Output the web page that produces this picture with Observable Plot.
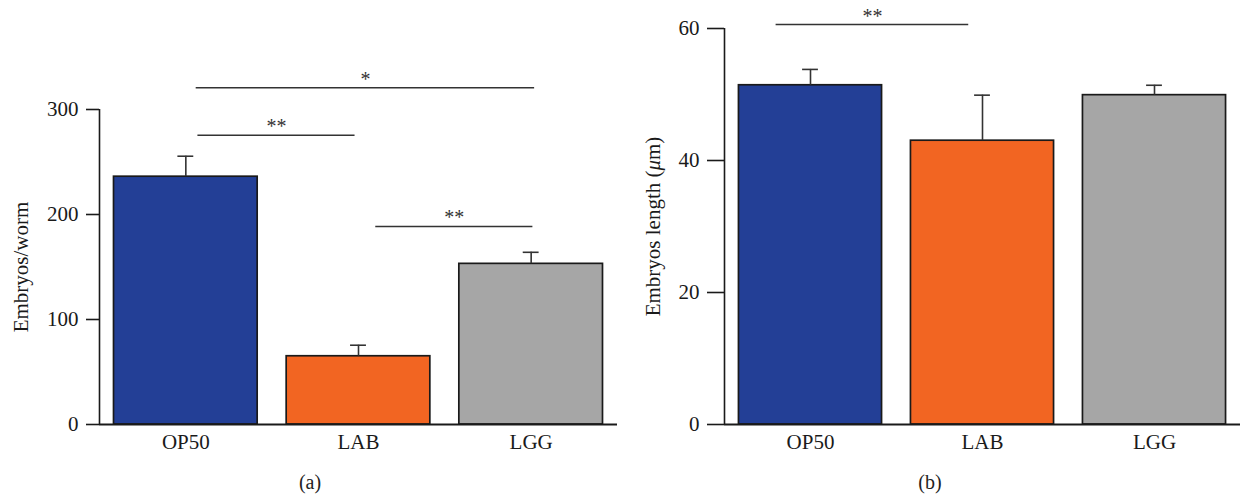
<!DOCTYPE html>
<html><head><meta charset="utf-8">
<script src="https://cdn.jsdelivr.net/npm/d3@7"></script>
<script src="https://cdn.jsdelivr.net/npm/@observablehq/plot@0.6"></script>
<style>
body{margin:0;background:#fff;font-family:"Liberation Serif",serif;}
#wrap{display:flex;width:1240px;height:498px;overflow:hidden;}
.panel{width:620px;height:498px;position:relative;}
.panel svg{display:block;}
.cap{position:absolute;left:0;width:620px;text-align:center;top:470px;font-size:20px;line-height:24px;color:#222;}
</style></head><body>
<div id="wrap"><div class="panel" id="a"></div><div class="panel" id="b"></div></div>
<script>
const categories = ["OP50", "LAB", "LGG"];
const barColors = ["#233F96", "#F26522", "#A6A6A6"];
const embryosPerWorm = [236, 65, 153];
const embryosPerWormErr = [19.5, 10.5, 11];
const embryoLength = [51.4, 43.0, 49.9];
const embryoLengthErr = [2.4, 6.9, 1.5];
const yTicksA = [0, 100, 200, 300];
const yTicksB = [0, 20, 40, 60];
const sigA = [
  {from: 1.06, to: 3.02, y: 320.7, label: "*"},
  {from: 1.07, to: 1.98, y: 275.5, label: "**"},
  {from: 2.10, to: 3.01, y: 188.6, label: "**"}
];
const sigB = [
  {from: 0.80, to: 1.92, y: 60.6, label: "**"}
];
const captions = ["(a)", "(b)"];

const FONT = "'Liberation Serif', 'Times New Roman', serif";
const INK = "#1a1a1a";

function panel({values, errs, ticks, yMax, sig, title, marginLeft, marginRight, marginTop, tickSize, titleDx}) {
  const rows = categories.map((c, i) => ({cat: c, pos: i + 1, v: values[i], e: errs[i]}));
  const half = 0.416, cap = 0.046;
  return Plot.plot({
    width: 620, height: 464,
    marginLeft, marginRight, marginTop, marginBottom: 40,
    x: {domain: [0.5, 3.5], axis: null},
    y: {domain: [0, yMax], axis: null},
    color: {domain: categories, range: barColors},
    style: {fontFamily: FONT, fontSize: "21px", color: INK, background: "#fff"},
    marks: [
      Plot.rectY(rows, {x1: d => d.pos - half, x2: d => d.pos + half, y1: 0, y2: "v", fill: "cat", stroke: INK, strokeWidth: 1.7}),
      Plot.ruleX(rows, {x: "pos", y1: "v", y2: d => d.v + d.e, stroke: "#333", strokeWidth: 1.6}),
      Plot.ruleY(rows, {y: d => d.v + d.e, x1: d => d.pos - cap, x2: d => d.pos + cap, stroke: "#333", strokeWidth: 1.6}),
      Plot.ruleX([0.5], {y1: 0, y2: yMax, stroke: INK, strokeWidth: 1.6}),
      Plot.ruleY([0], {stroke: INK, strokeWidth: 1.8}),
      Plot.axisY({ticks, tickSize, tickPadding: 8, label: null, stroke: INK, strokeWidth: 1.6, fontSize: 21, fill: INK}),
      Plot.text(rows, {x: "pos", y: 0, text: "cat", dy: 18, lineAnchor: "middle", fontSize: 21, fill: INK}),
      Plot.ruleY(sig, {y: "y", x1: "from", x2: "to", stroke: "#333", strokeWidth: 1.5}),
      Plot.text(sig, {x: d => (d.from + d.to) / 2, y: "y", text: "label", dy: -2, lineAnchor: "bottom", fontSize: 20, fill: "#333", letterSpacing: "3px"}),
      Plot.text([title], {frameAnchor: "left", rotate: -90, dx: titleDx, fontSize: 21, fill: INK, textAnchor: "middle", lineAnchor: "middle"})
    ]
  });
}

const a = panel({values: embryosPerWorm, errs: embryosPerWormErr, ticks: yTicksA, yMax: 300, sig: sigA,
  title: "Embryos/worm", marginLeft: 99, marginRight: 3, marginTop: 109, tickSize: 13, titleDx: -78});
const b = panel({values: embryoLength, errs: embryoLengthErr, ticks: yTicksB, yMax: 60, sig: sigB,
  title: "Embryos length (μm)", marginLeft: 104, marginRight: 0, marginTop: 28, tickSize: 17, titleDx: -71});

document.getElementById("a").appendChild(a);
document.getElementById("b").appendChild(b);

// italic mu in the right-hand title
d3.select(b).selectAll("text").filter(function() { return this.textContent === "Embryos length (μm)"; })
  .each(function() {
    const t = d3.select(this);
    t.text(null);
    t.append("tspan").text("Embryos length (");
    t.append("tspan").attr("font-style", "italic").text("μ");
    t.append("tspan").text("m)");
  });

["a", "b"].forEach((id, i) => {
  const c = document.createElement("div");
  c.className = "cap";
  c.textContent = captions[i];
  document.getElementById(id).appendChild(c);
});
</script>
</body></html>
